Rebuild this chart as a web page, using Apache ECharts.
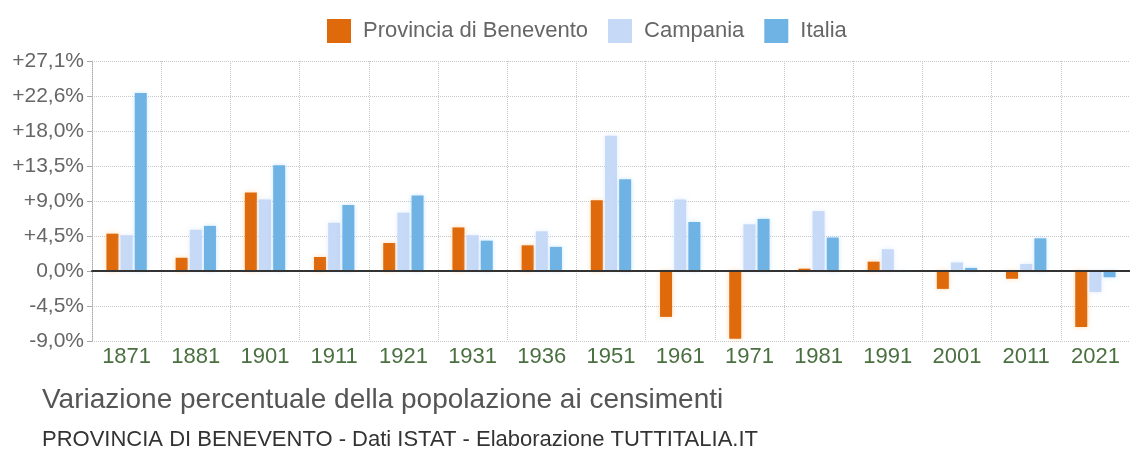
<!DOCTYPE html>
<html>
<head>
<meta charset="utf-8">
<style>
  html, body { margin: 0; padding: 0; background: #fff; }
  #main { width: 1130px; height: 451px; }
</style>
<script src="https://cdn.jsdelivr.net/npm/echarts@6/dist/echarts.min.js"></script>
</head>
<body>
<div id="main"></div>
<script>
const years = ["1871", "1881", "1901", "1911", "1921", "1931", "1936", "1951", "1961", "1971", "1981", "1991", "2001", "2011", "2021"];
const benevento = [4.8, 1.7, 10.1, 1.8, 3.6, 5.6, 3.3, 9.1, -5.9, -8.7, 0.3, 1.2, -2.3, -1.0, -7.2];
const campania = [4.6, 5.3, 9.2, 6.2, 7.5, 4.6, 5.1, 17.4, 9.2, 6.0, 7.7, 2.8, 1.1, 0.9, -2.7];
const italia = [22.9, 5.8, 13.6, 8.5, 9.7, 3.9, 3.1, 11.8, 6.3, 6.7, 4.3, 0.1, 0.4, 4.2, -0.8];
const yTickLabels = ["-9,0%", "-4,5%", "0,0%", "+4,5%", "+9,0%", "+13,5%", "+18,0%", "+22,6%", "+27,1%"];

const chartDom = document.getElementById("main");
const myChart = echarts.init(chartDom);
const font = "'Liberation Sans', Arial, sans-serif";

const barStyle = (color, glow) => ({
  type: "bar",
  barWidth: 12,
  barGap: "18%",
  itemStyle: { color: color, shadowColor: glow, shadowBlur: 5 },
});

let option = {
  animation: false,
  textStyle: { fontFamily: font },
  legend: {
    data: ["Provincia di Benevento", "Campania", "Italia"],
    left: 322,
    top: 14,
    itemWidth: 24,
    itemHeight: 24,
    itemGap: 20,
    icon: "rect",
    textStyle: { fontSize: 22, color: "#666", padding: [0, 0, 0, 7] },
  },
  title: [
    {
      text: "Variazione percentuale della popolazione ai censimenti",
      left: 37,
      top: 381,
      textStyle: { fontSize: 28, fontWeight: "normal", color: "#555", fontFamily: font },
    },
    {
      text: "PROVINCIA DI BENEVENTO - Dati ISTAT - Elaborazione TUTTITALIA.IT",
      left: 37,
      top: 424,
      textStyle: { fontSize: 22, fontWeight: "normal", color: "#333", fontFamily: font },
    },
  ],
  grid: { left: 92, right: -9, top: 61, bottom: 110 },
  xAxis: {
    type: "category",
    data: years,
    axisLine: { onZero: true, lineStyle: { color: "#333", width: 2 } },
    axisTick: { show: false },
    splitLine: { show: true, interval: 0, lineStyle: { color: "#c8c8c8", type: "dotted" } },
    axisLabel: { color: "#4a7040", fontSize: 22, margin: 5, interval: 0 },
    z: 5,
  },
  yAxis: {
    type: "value",
    min: -9,
    max: 27,
    interval: 4.5,
    axisLine: { show: true, lineStyle: { color: "#aaa" } },
    axisTick: { show: true, length: 5, lineStyle: { color: "#aaa" } },
    splitLine: { lineStyle: { color: "#c8c8c8", type: "dotted" } },
    axisLabel: {
      color: "#666",
      fontSize: 21,
      margin: 8,
      formatter: (value, index) => yTickLabels[index],
    },
  },
  series: [
    { name: "Provincia di Benevento", data: benevento, ...barStyle("#df6a0c", "rgba(255,190,120,0.6)") },
    { name: "Campania", data: campania, ...barStyle("#c6d9f6", "rgba(200,220,255,0.5)") },
    { name: "Italia", data: italia, ...barStyle("#6fb3e4", "rgba(170,215,255,0.6)") },
  ],
};

option && myChart.setOption(option);
</script>
</body>
</html>
